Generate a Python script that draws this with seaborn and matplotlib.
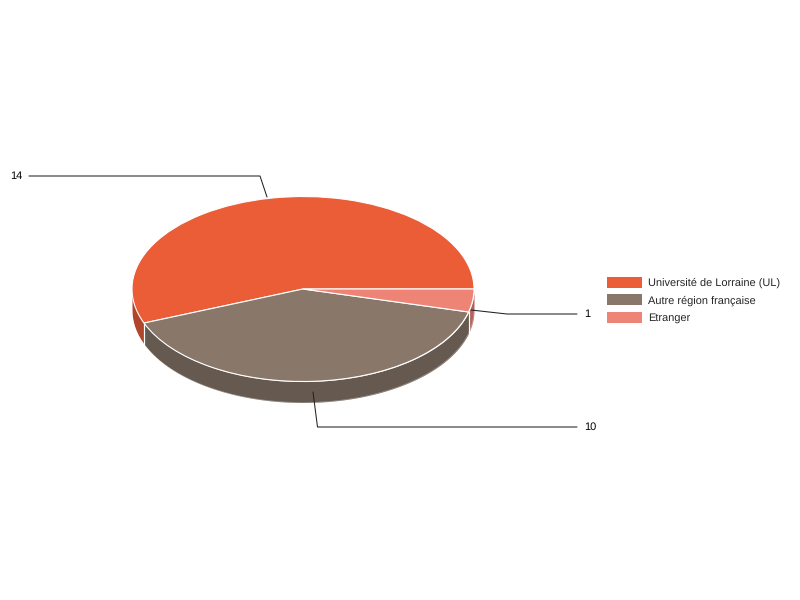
import numpy as np
import seaborn as sns
import matplotlib.pyplot as plt
from matplotlib.patches import Patch

categories = ["Université de Lorraine (UL)", "Autre région française", "Etranger"]
counts = [14, 10, 1]
top_colors = ["#EA5D37", "#89776A", "#EE8476"]
side_colors = ["#AF4529", "#66594F", "#B2635A"]

# pie geometry in image pixels
CX, CY = 303, 289
RX, RY = 171, 92.5
DEPTH = 21

sns.set_style("white")
plt.rcParams["font.family"] = ["Liberation Sans", "DejaVu Sans"]
plt.rcParams["text.hinting"] = "no_hinting"
plt.rcParams["text.hinting_factor"] = 1


def px(x, y):
    # image pixels to the unit-circle data coords of the pie
    return (x - CX) / RX, (CY - y) / RY


fig = plt.figure(figsize=(8, 6), dpi=100)
ax = fig.add_axes([0, 0, 1, 1])

# side walls, only the front half (180-360 deg) can be seen
edges = np.cumsum([0] + counts) / sum(counts) * 360
drop = DEPTH / RY
for i in range(len(counts)):
    a0, a1 = max(edges[i], 180), min(edges[i + 1], 360)
    if a1 <= a0:
        continue
    t = np.radians(np.linspace(a0, a1, 80))
    ax.fill_between(np.cos(t), np.sin(t), np.sin(t) - drop, color=side_colors[i], lw=0, zorder=1)
    ax.plot(np.cos(t), np.sin(t) - drop, color="white", lw=0.4, alpha=0.4, zorder=1.5)
    for a in (a0, a1):
        if a in edges[1:-1]:
            x = np.cos(np.radians(a))
            y = np.sin(np.radians(a))
            ax.plot([x, x], [y, y - drop], color="white", lw=0.8, zorder=1.5)

wedges, _ = ax.pie(
    counts,
    colors=top_colors,
    startangle=0,
    counterclock=True,
    radius=1,
    wedgeprops={"edgecolor": "white", "linewidth": 0.8, "zorder": 2},
)
ax.set_aspect("auto")
ax.set_xlim(px(0, 0)[0], px(800, 0)[0])
ax.set_ylim(px(0, 600)[1], px(0, 0)[1])
ax.axis("off")

# leader lines and value labels
leaders = [
    ([(267, 197), (260, 176), (29, 176)], (22, 176), "right"),
    ([(313, 392), (317.5, 427), (577, 427)], (584, 427), "left"),
    ([(471, 310), (507, 314), (577, 314)], (584, 314), "left"),
]
for (path, pos, ha), n in zip(leaders, counts):
    pts = [px(*p) for p in path]
    ax.plot([p[0] for p in pts], [p[1] for p in pts], color="#222222", lw=0.75, zorder=3)
    tx, ty = px(*pos)
    ax.text(tx, ty, str(n), ha=ha, va="center", fontsize=7.9, color="black")

handles = [Patch(facecolor=c, edgecolor="none") for c in top_colors]
ax.legend(
    handles,
    categories,
    loc="center left",
    bbox_to_anchor=(607 / 800, 1 - 300 / 600),
    bbox_transform=fig.transFigure,
    frameon=False,
    fontsize=7.9,
    handlelength=3.2,
    handleheight=1.15,
    handletextpad=0.55,
    labelspacing=0.55,
    borderpad=0,
    borderaxespad=0,
)

fig.savefig("out.png", dpi=100)
plt.close(fig)
